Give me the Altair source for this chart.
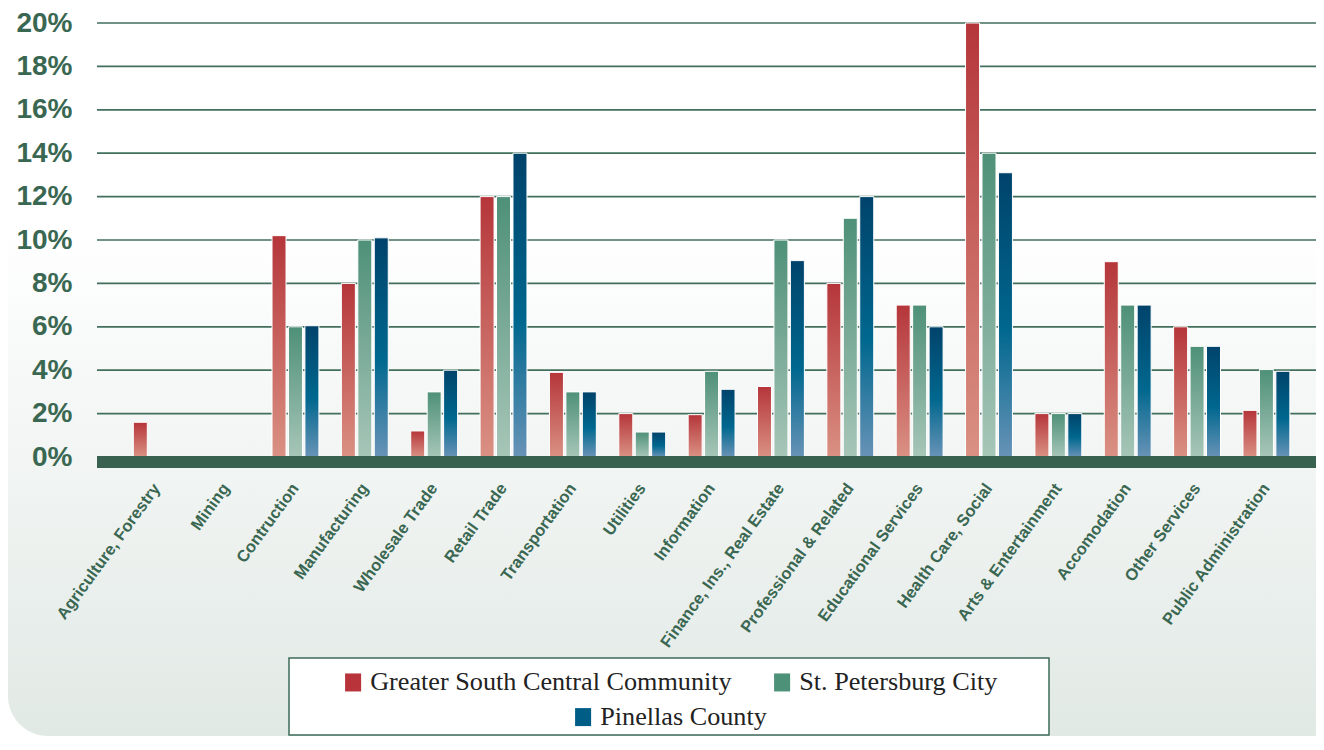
import altair as alt
import pandas as pd

categories = [
    "Agriculture, Forestry", "Mining", "Contruction", "Manufacturing",
    "Wholesale Trade", "Retail Trade", "Transportation", "Utilities",
    "Information", "Finance, Ins., Real Estate", "Professional & Related",
    "Educational Services", "Health Care, Social", "Arts & Entertainment",
    "Accomodation", "Other Services", "Public Administration",
]
series = ["Greater South Central Community", "St. Petersburg City", "Pinellas County"]

gsc = [1.6, None, 10.2, 8.0, 1.2, 12.0, 3.9, 2.0, 1.95, 3.25, 8.0, 7.0, 20.0, 2.0, 9.0, 6.0, 2.15]
stp = [None, None, 6.0, 10.0, 3.0, 12.0, 3.0, 1.15, 3.95, 10.0, 11.0, 7.0, 14.0, 2.0, 7.0, 5.1, 4.03]
pin = [None, None, 6.05, 10.1, 4.0, 14.0, 3.0, 1.15, 3.12, 9.05, 12.0, 6.0, 13.1, 2.0, 7.0, 5.1, 3.95]

y_ticks = [0, 2, 4, 6, 8, 10, 12, 14, 16, 18, 20]

rows = []
for s, vals in zip(series, [gsc, stp, pin]):
    for c, v in zip(categories, vals):
        if v is not None:
            rows.append({"category": c, "series": s, "value": v})
df = pd.DataFrame(rows)
ticks_df = pd.DataFrame({"value": [t for t in y_ticks if t > 0]})
zero_df = pd.DataFrame({"value": [0]})

W, H = 1213, 434
GREEN_DARK = "#3a6752"
LINE = "#426f5c"


def vgrad(stops):
    return alt.Gradient(
        gradient="linear",
        stops=[alt.GradientStop(offset=o, color=c) for o, c in stops],
        x1=0, x2=0, y1=0, y2=1,
    )


bar_grads = {
    series[0]: vgrad([(0, "#b5363a"), (1, "#da9184")]),
    series[1]: vgrad([(0, "#4e9078"), (1, "#a7c6b8")]),
    series[2]: vgrad([(0, "#00436b"), (0.55, "#00678e"), (1, "#6893b7")]),
}

x_enc = alt.X(
    "category:N", sort=categories,
    scale=alt.Scale(domain=categories, paddingInner=0, paddingOuter=0.245, align=0.738),
    axis=alt.Axis(
        title=None, domain=False, ticks=False, labelAngle=-54, labelAlign="right",
        labelBaseline="middle", labelPadding=28, labelFont="Liberation Sans",
        labelFontSize=16.5, labelFontWeight="bold", labelColor=GREEN_DARK, labelLimit=0,
        zindex=1,
    ),
)
xoff_enc = alt.XOffset(
    "series:N", sort=series,
    scale=alt.Scale(domain=series, paddingInner=0.149, paddingOuter=0.683),
)
y_scale = alt.Scale(domain=[0, 20], nice=False, zero=True)
y_axis = alt.Axis(
    title=None, domain=False, ticks=False, grid=False, values=y_ticks,
    labelExpr="datum.value + '%'", labelPadding=25, labelFont="Liberation Sans",
    labelFontSize=28, labelFontWeight="bold", labelColor=GREEN_DARK, zindex=1,
)
y_enc = alt.Y("value:Q", scale=y_scale, axis=y_axis)

background = alt.Chart(pd.DataFrame({"a": [0]})).mark_rect(
    fill=vgrad([(0, "#ffffff"), (0.3, "#ffffff"), (1, "#e1e9e5")]),
    cornerRadiusBottomLeft=40,
).encode(
    x=alt.value(-89), x2=alt.value(W + 6), y=alt.value(-15), y2=alt.value(713),
)

grid = alt.Chart(ticks_df).mark_rule(color=LINE, strokeWidth=1.7).encode(
    y=y_enc, x=alt.value(0), x2=alt.value(W + 8),
)

bars = []
for s in series:
    bars.append(
        alt.Chart(df).transform_filter(alt.datum.series == s).mark_bar(
            fill=bar_grads[s], stroke="white", strokeWidth=1,
        ).encode(x=x_enc, xOffset=xoff_enc, y=y_enc)
    )

zero_band = alt.Chart(zero_df).mark_rule(
    color="#38624f", strokeWidth=12, yOffset=5,
).encode(
    y=y_enc, x=alt.value(0), x2=alt.value(W + 6),
)

legend_box = alt.Chart(pd.DataFrame({"a": [0]})).mark_rect(
    fill="white", stroke="#3d6b58", strokeWidth=1.5,
).encode(
    x=alt.value(192), x2=alt.value(952), y=alt.value(635), y2=alt.value(712),
)

sym_path = "M-0.89,-1L0.89,-1L0.89,1L-0.89,1Z"
legend_common = dict(
    title=None, orient="none", direction="horizontal", labelFont="Liberation Serif",
    labelFontSize=26.2, labelColor="#222222", symbolType=sym_path, symbolSize=324,
    symbolOpacity=1, symbolStrokeWidth=0, labelOffset=4, columnPadding=37,
    labelLimit=0, padding=0,
)

leg1 = alt.Chart(df).transform_filter(
    alt.FieldOneOfPredicate(field="series", oneOf=series[:2])
).mark_square(opacity=0).encode(
    color=alt.Color(
        "series:N",
        scale=alt.Scale(domain=series[:2], range=["#b8333a", "#4d9179"]),
        legend=alt.Legend(legendX=243, legendY=646, **legend_common),
    )
)
leg2 = alt.Chart(df).transform_filter(alt.datum.series == series[2]).mark_square(
    opacity=0
).encode(
    color=alt.Color(
        "series:N",
        scale=alt.Scale(domain=series[2:], range=["#005d86"]),
        legend=alt.Legend(legendX=473, legendY=681, **legend_common),
    )
)

chart = alt.layer(
    background, grid, *bars, zero_band, legend_box, leg1, leg2
).resolve_scale(color="independent").properties(
    width=W, height=H,
    autosize=alt.AutoSizeParams(type="none"),
    padding={"left": 89, "top": 15, "right": 6, "bottom": 279},
).configure_view(stroke=None)

chart.save("out.html", embed_options={"renderer": "svg", "actions": False})
